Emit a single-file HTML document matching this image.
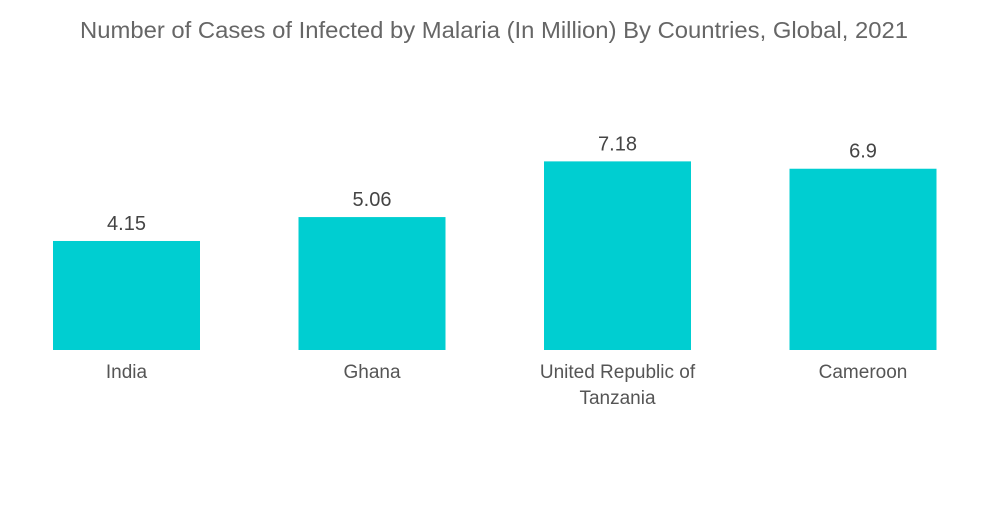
<!DOCTYPE html>
<html><head><meta charset="utf-8"><style>
body{margin:0;background:#fff;}
svg text{font-family:"Liberation Sans",sans-serif;}
</style></head><body>
<svg width="1000" height="504">
<text x="494" y="38" text-anchor="middle" font-size="23" textLength="828" lengthAdjust="spacingAndGlyphs" fill="#666">Number of Cases of Infected by Malaria (In Million) By Countries, Global, 2021</text>
<g id="bars"></g>
</svg>
<script>
const categories=[["India"],["Ghana"],["United Republic of","Tanzania"],["Cameroon"]];
const values=[4.15,5.06,7.18,6.9];
const valueLabels=["4.15","5.06","7.18","6.9"];
const baseY=350, pxPerUnit=26.27, x0=53, step=245.5, bw=147;
const yScale=v=>baseY-v*pxPerUnit;
const xScale=i=>x0+i*step;
const g=document.getElementById('bars');
const ns="http://www.w3.org/2000/svg";
values.forEach((v,i)=>{
  const r=document.createElementNS(ns,'rect');
  
  
  r.setAttribute('x',xScale(i));r.setAttribute('y',yScale(v));
  r.setAttribute('width',bw);r.setAttribute('height',baseY-yScale(v));
  r.setAttribute('fill','#00ced1');
  g.appendChild(r);
  const t=document.createElementNS(ns,'text');
  
  
  t.setAttribute('x',xScale(i)+bw/2);t.setAttribute('y',yScale(v)-11);
  t.setAttribute('text-anchor','middle');t.setAttribute('font-size','20');t.setAttribute('fill','#444');
  t.textContent=valueLabels[i];
  g.appendChild(t);
  categories[i].forEach((line,j)=>{
    const c=document.createElementNS(ns,'text');
    
    
    c.setAttribute('x',xScale(i)+bw/2);c.setAttribute('y',378+j*26);
    c.setAttribute('text-anchor','middle');c.setAttribute('font-size','19');c.setAttribute('fill','#555');
    c.textContent=line;
    g.appendChild(c);
  });
});
</script>
</body></html>
